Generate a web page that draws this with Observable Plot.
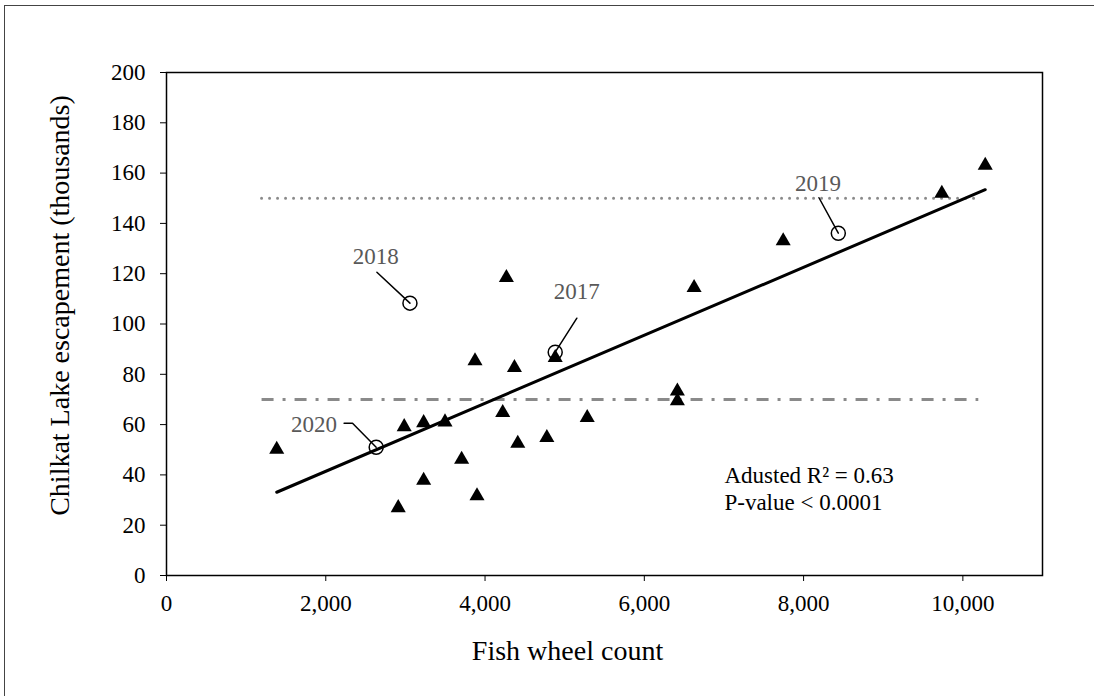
<!DOCTYPE html>
<html><head><meta charset="utf-8">
<script src="https://cdn.jsdelivr.net/npm/d3@7"></script>
<script src="https://cdn.jsdelivr.net/npm/@observablehq/plot@0.6"></script>
<style>
html,body{margin:0;padding:0;background:#fff;overflow:hidden;}
#chart{position:absolute;left:0;top:0;}
#border{position:absolute;left:4px;top:5px;width:1200px;height:800px;border-left:1.5px solid #444;border-top:1.5px solid #444;}
</style></head><body>
<div id="chart"></div><div id="border"></div>
<script>
// Historical years: fish wheel count vs Chilkat Lake escapement (thousands)
const fishWheel = [1384, 2910, 2985, 3229, 3229, 3497, 3706, 3874, 3899, 4222, 4268, 4369, 4411, 4776, 4881, 5283, 6415, 6415, 6625, 7744, 9736, 10281];
const escapement = [51.0, 27.8, 60.0, 61.6, 38.7, 61.9, 47.0, 86.2, 32.5, 65.6, 119.3, 83.5, 53.4, 55.7, 87.5, 63.6, 74.2, 70.3, 115.3, 133.9, 152.8, 163.9];

// Recent years (open circles)
const recentYears = ["2017", "2018", "2019", "2020"];
const recentFish = [4881, 3057, 8436, 2633];
const recentEsc = [88.8, 108.3, 136.1, 51.0];
const labelFish = [5151, 2629, 8180, 1853];
const labelEsc = [113.0, 126.9, 156.0, 59.9];

// Leader vertices (year, x, y)
const leaderYear = ["2017", "2017", "2018", "2018", "2019", "2019", "2020", "2020", "2020"];
const leaderFish = [5153, 4881, 2642, 3057, 8193, 8436, 2230, 2336, 2633];
const leaderEsc = [102.3, 88.8, 120.6, 108.3, 150.2, 136.1, 60.5, 60.5, 51.0];

// Regression fit line
const fitFish = [1384, 10281];
const fitEsc = [33.1, 153.4];

// Escapement goal range lines
const goalLevels = [150, 70];
const goalStart = 1200;
const goalEnd = 10200;

// Stats annotation
const statsText = ["Adusted R\u00B2 = 0.63", "P-value < 0.0001"];
const statsFish = [7006, 7006];
const statsEsc = [39.8, 29.1];

const xTicks = [0, 2000, 4000, 6000, 8000, 10000];
const yTicks = [0, 20, 40, 60, 80, 100, 120, 140, 160, 180, 200];

const pts = fishWheel.map((f, i) => ({x: f, y: escapement[i]}));
const recent = recentYears.map((yr, i) => ({year: yr, x: recentFish[i], y: recentEsc[i], lx: labelFish[i], ly: labelEsc[i]}));
const leaders = leaderYear.map((yr, i) => ({year: yr, x: leaderFish[i], y: leaderEsc[i]}));
const fit = fitFish.map((f, i) => ({x: f, y: fitEsc[i]}));
const goals = goalLevels.map(g => ({y: g, x1: goalStart, x2: goalEnd}));
const stats = statsText.map((t, i) => ({t, x: statsFish[i], y: statsEsc[i]}));

const chart = Plot.plot({
  width: 1094,
  height: 696,
  marginLeft: 166,
  marginRight: 52,
  marginTop: 72,
  marginBottom: 121,
  style: {fontFamily: "'Liberation Serif', 'Times New Roman', serif", fontSize: "23px", background: "white", color: "black", overflow: "visible"},
  x: {domain: [0, 11000], ticks: xTicks, tickFormat: d3.format(","), tickSize: 6, tickPadding: 13, label: null},
  y: {domain: [0, 200], ticks: yTicks, tickSize: 6, tickPadding: 15, label: null},
  marks: [
    Plot.ruleY([goals[0]], {y: "y", x1: "x1", x2: "x2", stroke: "#8a8a8a", strokeWidth: 3, strokeDasharray: "0,8", strokeLinecap: "round"}),
    Plot.ruleY([goals[1]], {y: "y", x1: "x1", x2: "x2", stroke: "#8a8a8a", strokeWidth: 3, strokeDasharray: "12,9,3,9"}),
    Plot.line(fit, {x: "x", y: "y", stroke: "black", strokeWidth: 3}),
    Plot.dot(pts, {x: "x", y: "y", symbol: "triangle", r: 5.6, fill: "black", stroke: "none", dy: 2.2}),
    Plot.line(leaders, {x: "x", y: "y", z: "year", stroke: "black", strokeWidth: 1.5}),
    Plot.dot(recent, {x: "x", y: "y", r: 7, fill: "none", stroke: "black", strokeWidth: 1.5}),
    Plot.text(recent, {x: "lx", y: "ly", text: "year", fill: "#595959", fontSize: 23}),
    Plot.text(stats, {x: "x", y: "y", text: "t", textAnchor: "start", fill: "black", fontSize: 23}),
    Plot.text(["Fish wheel count"], {frameAnchor: "bottom", textAnchor: "middle", lineAnchor: "middle", dy: 76, dx: -37, fontSize: 28, fill: "black"}),
    Plot.text(["Chilkat Lake escapement (thousands)"], {frameAnchor: "left", textAnchor: "middle", lineAnchor: "middle", rotate: -90, dx: -106, dy: -18.5, fontSize: 28, fill: "black"}),
    Plot.frame({stroke: "black", strokeWidth: 1.5})
  ]
});
document.getElementById("chart").appendChild(chart);
</script></body></html>
